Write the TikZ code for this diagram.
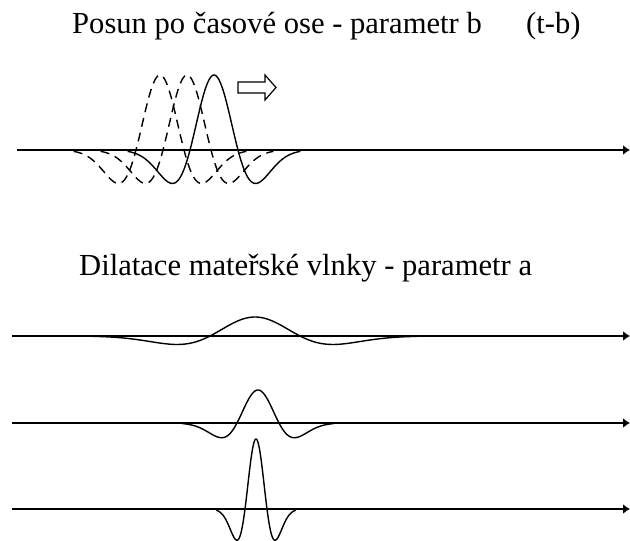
\documentclass[tikz,border=0pt]{standalone}
\usepackage{fontspec}
\setmainfont{Liberation Serif}
\usetikzlibrary{arrows.meta}
\begin{document}
\begin{tikzpicture}[x=1pt,y=-1pt,
  axisline/.style={line width=2pt,-{Latex[length=7pt,width=10pt]}},
  wave/.style={line width=1.4pt,line join=round},
  dashwave/.style={wave,dash pattern=on 9pt off 6pt},
  title/.style={anchor=base west,inner sep=0pt,font=\fontsize{30.6}{36}\selectfont}]
\useasboundingbox (0,0) rectangle (630,541);
% titles
\node[title] (t1) at (72,33) {Posun po časové ose - parametr b};
\node[title] (t1b) at (526,33) {(t-b)};
\node[title] (t2) at (79,275) {Dilatace mateřské vlnky - parametr a};
% axes
\coordinate (a1s) at (17,150);  \coordinate (a1e) at (630,150);
\coordinate (a2s) at (12,336);  \coordinate (a2e) at (630,336);
\coordinate (a3s) at (12,423);  \coordinate (a3e) at (630,423);
\coordinate (a4s) at (12,509);  \coordinate (a4e) at (630,509);
\draw[axisline] (a1s) -- (a1e);
\draw[axisline] (a2s) -- (a2e);
\draw[axisline] (a3s) -- (a3e);
\draw[axisline] (a4s) -- (a4e);
\draw[line width=2.8pt] (328,150) -- (382,150);
% shifted wavelets
\draw[dashwave] plot[domain=-3.6:3.6,samples=120,smooth] ({160+24*\x},{150-75*(1-\x*\x)*exp(-\x*\x/2)});
\draw[dashwave] plot[domain=-3.6:3.6,samples=120,smooth] ({187+24*\x},{150-75*(1-\x*\x)*exp(-\x*\x/2)});
\draw[wave] plot[domain=-3.6:3.6,samples=120,smooth] ({214+24*\x},{150-75*(1-\x*\x)*exp(-\x*\x/2)});
% hollow arrow
\draw[line width=1.2pt,line join=miter] (238,82) -- (265,82) -- (265,75) -- (276,87.5) -- (265,100) -- (265,93) -- (238,93) -- cycle;
% dilated wavelets
\draw[wave] plot[domain=-3.6:3.6,samples=120,smooth] ({255+45*\x},{336-19*(1-\x*\x)*exp(-\x*\x/2)});
\draw[wave] plot[domain=-3.6:3.6,samples=120,smooth] ({258+21*\x},{423-33*(1-\x*\x)*exp(-\x*\x/2)});
\draw[wave] plot[domain=-3.6:3.6,samples=150,smooth] ({256+11*\x},{509-70*(1-\x*\x)*exp(-\x*\x/2)});
\end{tikzpicture}
\end{document}
